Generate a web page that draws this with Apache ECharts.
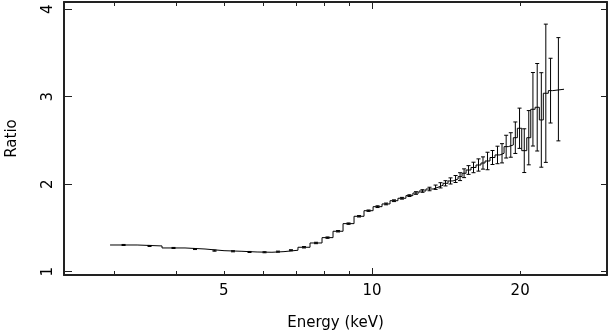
<!DOCTYPE html>
<html>
<head>
<meta charset="utf-8">
<script src="https://cdn.jsdelivr.net/npm/echarts@6/dist/echarts.min.js"></script>
<style>
  html, body { margin: 0; padding: 0; background: #fff; }
  #ratioChart { width: 610px; height: 331px; }
</style>
</head>
<body>
<div id="ratioChart"></div>
<script>
// bin edges (keV), ratio per bin, 1-sigma error per bin
var binEdges = [2.935, 3.331, 3.743, 4.168, 4.577, 5.003, 5.441, 5.84, 6.261, 6.624,
    7.071, 7.482, 7.914, 8.332, 8.732, 9.193, 9.632, 10.05, 10.48, 10.88,
    11.29, 11.72, 12.11, 12.46, 12.87, 13.31, 13.62, 13.94, 14.27, 14.61,
    14.96, 15.24, 15.53, 15.89, 16.27, 16.65, 16.97, 17.37, 17.78, 18.2,
    18.55, 18.92, 19.37, 19.74, 20.15, 20.63, 21.02, 21.45, 21.88, 22.29,
    22.82, 23.3, 24.56];
var ratio = [1.305, 1.294, 1.271, 1.259, 1.240, 1.233, 1.225, 1.222, 1.229, 1.245,
    1.279, 1.328, 1.389, 1.462, 1.549, 1.633, 1.697, 1.743, 1.774, 1.811,
    1.839, 1.869, 1.899, 1.922, 1.945, 1.965, 1.987, 2.010, 2.037, 2.059,
    2.086, 2.125, 2.162, 2.191, 2.219, 2.242, 2.265, 2.305, 2.334, 2.353,
    2.429, 2.448, 2.531, 2.639, 2.383, 2.531, 2.856, 2.879, 2.734, 3.039,
    3.069, 3.085];
var ratioErr = [0.006, 0.006, 0.006, 0.006, 0.006, 0.006, 0.006, 0.006, 0.006, 0.006,
    0.008, 0.008, 0.008, 0.008, 0.008, 0.008, 0.008, 0.01, 0.01, 0.01,
    0.01, 0.01, 0.015, 0.015, 0.02, 0.025, 0.03, 0.03, 0.035, 0.04,
    0.045, 0.05, 0.05, 0.06, 0.07, 0.07, 0.1, 0.08, 0.1, 0.11,
    0.13, 0.14, 0.18, 0.23, 0.25, 0.31, 0.42, 0.5, 0.54, 0.79,
    0.37, 0.59];
var xLabelValues = [5, 10, 20];
var xMajorTicks = [10];
var xMinorTicks = [3, 4, 5, 6, 7, 8, 9, 20, 30];
var yTickValues = [1, 2, 3, 4];

var FONT = 'DejaVu Sans';
var INK = '#000';

var stepData = binEdges.map(function (e, i) {
    return [e, ratio[Math.min(i, ratio.length - 1)]];
});
var errData = ratio.map(function (r, i) {
    return [Math.sqrt(binEdges[i] * binEdges[i + 1]), r, ratioErr[i]];
});

function xAxisDef(pos, ticks, len, withLine, withLabels) {
    return {
        type: 'log',
        logBase: 10,
        position: pos,
        min: 2.366,
        max: 30.03,
        splitLine: {show: false},
        axisLine: {show: withLine, lineStyle: {color: '#222', width: 2}},
        axisTick: {show: true, inside: true, length: len, customValues: ticks,
            lineStyle: {color: '#222', width: 1}},
        axisLabel: {show: withLabels, customValues: xLabelValues, margin: 9,
            color: INK, fontFamily: FONT, fontSize: 15},
        name: withLabels ? 'Energy (keV)' : '',
        nameLocation: 'middle',
        nameGap: 41,
        nameTextStyle: {color: INK, fontFamily: FONT, fontSize: 15}
    };
}

var chart = echarts.init(document.getElementById('ratioChart'));
var option = {
    animation: false,
    backgroundColor: '#fff',
    grid: {left: 64, right: 3, top: 2, bottom: 56, containLabel: false, outerBoundsMode: 'none'},
    xAxis: [
        xAxisDef('bottom', xMajorTicks, 7, true, true),
        xAxisDef('bottom', xMinorTicks, 4, false, false),
        xAxisDef('top', xMajorTicks, 7, true, false),
        xAxisDef('top', xMinorTicks, 4, false, false)
    ],
    yAxis: [
        {
            type: 'value', position: 'left', min: 0.962, max: 4.082,
            splitLine: {show: false},
            axisLine: {show: true, lineStyle: {color: '#222', width: 2}},
            axisTick: {inside: true, length: 8, customValues: yTickValues,
                lineStyle: {color: '#222', width: 1}},
            axisLabel: {customValues: yTickValues, rotate: 90, margin: 8,
                color: INK, fontFamily: FONT, fontSize: 15},
            name: 'Ratio', nameLocation: 'middle', nameGap: 44, nameRotate: 90,
            nameTextStyle: {color: INK, fontFamily: FONT, fontSize: 15}
        },
        {
            type: 'value', position: 'right', min: 0.962, max: 4.082,
            splitLine: {show: false},
            axisLine: {show: true, lineStyle: {color: '#222', width: 2}},
            axisTick: {inside: true, length: 6, customValues: yTickValues,
                lineStyle: {color: '#222', width: 1}},
            axisLabel: {show: false}
        }
    ],
    series: [
        {
            type: 'line',
            xAxisIndex: 0,
            yAxisIndex: 0,
            step: 'end',
            showSymbol: false,
            data: stepData,
            lineStyle: {color: INK, width: 1},
            z: 3
        },
        {
            type: 'custom',
            xAxisIndex: 0,
            yAxisIndex: 0,
            data: errData,
            renderItem: function (params, api) {
                var lo = api.coord([api.value(0), api.value(1) - api.value(2)]);
                var hi = api.coord([api.value(0), api.value(1) + api.value(2)]);
                var style = {stroke: INK, lineWidth: 1};
                return {
                    type: 'group',
                    children: [
                        {type: 'line', shape: {x1: lo[0], y1: lo[1], x2: hi[0], y2: hi[1]}, style: style},
                        {type: 'line', shape: {x1: lo[0] - 2, y1: lo[1], x2: lo[0] + 2, y2: lo[1]}, style: style},
                        {type: 'line', shape: {x1: hi[0] - 2, y1: hi[1], x2: hi[0] + 2, y2: hi[1]}, style: style}
                    ]
                };
            },
            z: 4
        }
    ]
};
chart.setOption(option);
</script>
</body>
</html>
